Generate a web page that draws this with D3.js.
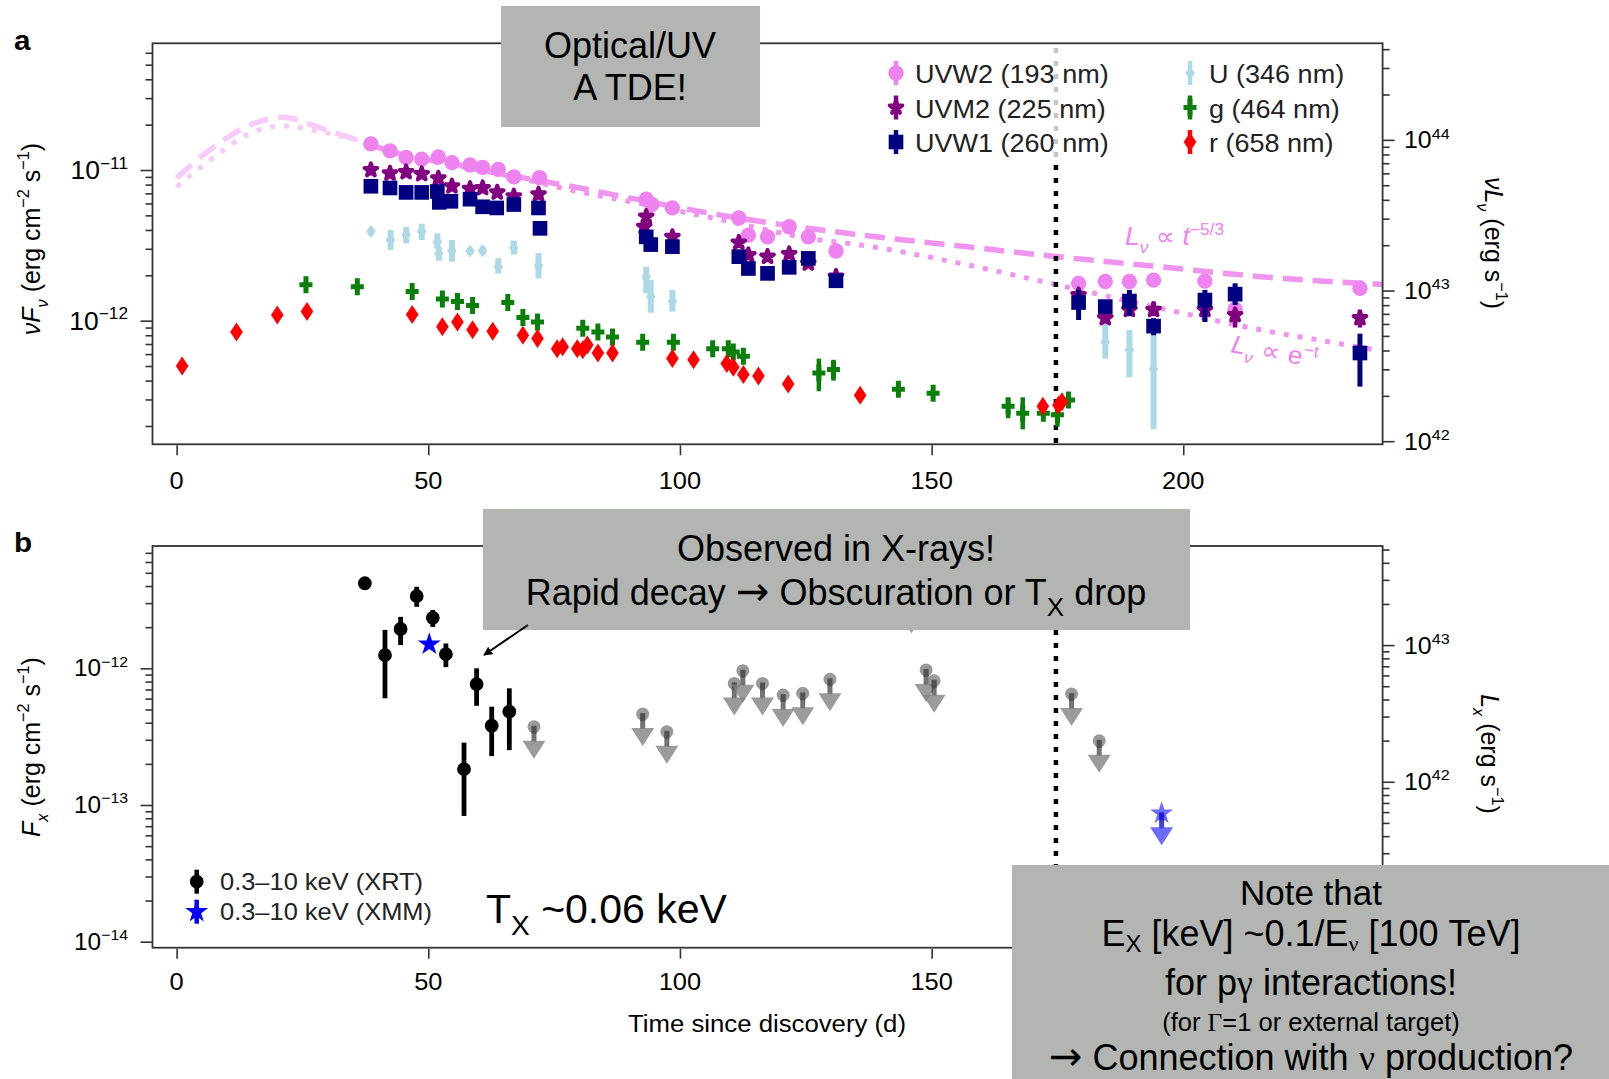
<!DOCTYPE html>
<html>
<head>
<meta charset="utf-8">
<title>AT2019dsg light curves</title>
<script src="https://cdn.jsdelivr.net/npm/d3@7"></script>
<style>
  html, body { margin: 0; padding: 0; background: #fff; }
  svg { display: block; }
</style>
</head>
<body>
<script>
// ---------------------------------------------------------------
// Panel a: optical / UV photometry, nu F_nu in units of 1e-12 erg cm^-2 s^-1
// ---------------------------------------------------------------
const uvw2Day  = [38.6, 42.4, 45.6, 48.7, 52.0, 54.7, 58.3, 60.8, 63.9, 67.0, 72.1, 93.3, 94.4, 98.5, 111.7, 113.6, 117.4, 121.7, 125.5, 131.0, 179.2, 184.5, 189.3, 194.1, 204.3, 210.3, 235.1];
const uvw2Flux = [14.9, 13.4, 12.1, 11.8, 12.2, 11.2, 10.8, 10.4, 10.1, 9.0, 8.9, 6.4, 5.9, 5.6, 4.8, 3.7, 3.6, 4.2, 3.6, 2.9, 1.77, 1.82, 1.82, 1.86, 1.83, 1.19, 1.64];

const uvm2Day  = [38.6, 42.4, 45.6, 48.7, 52.0, 54.7, 58.3, 60.8, 63.7, 67.0, 71.9, 92.9, 93.3, 98.5, 111.7, 113.6, 117.4, 121.7, 125.5, 131.0, 179.2, 184.5, 189.3, 194.1, 204.3, 210.3, 235.1];
const uvm2Flux = [10.0, 9.5, 9.7, 9.4, 8.8, 7.8, 7.5, 7.6, 7.1, 6.7, 6.9, 4.2, 4.9, 3.6, 3.3, 2.73, 2.66, 2.77, 2.40, 1.96, 1.48, 1.04, 1.18, 1.18, 1.18, 1.09, 1.04];
const uvm2Lo   = [null, null, null, null, null, null, null, null, null, null, null, null, null, null, null, null, null, null, null, null, null, 0.96, null, 1.07, 0.98, 0.90, 0.90];
const uvm2Hi   = [null, null, null, null, null, null, null, null, null, null, null, null, null, null, null, null, null, null, null, null, null, 1.12, null, 1.34, 1.31, 1.21, 1.18];

const uvw1Day  = [38.6, 42.4, 45.6, 48.7, 51.8, 52.2, 54.5, 58.3, 60.8, 63.6, 67.0, 71.9, 72.2, 93.3, 94.2, 98.5, 111.7, 113.6, 117.4, 121.7, 125.5, 131.0, 179.2, 184.5, 189.3, 194.1, 204.3, 210.3, 235.1];
const uvw1Flux = [7.8, 7.6, 7.1, 7.1, 7.2, 6.1, 6.2, 6.4, 5.7, 5.6, 5.9, 5.6, 4.1, 3.6, 3.2, 3.1, 2.66, 2.22, 2.06, 2.26, 2.59, 1.84, 1.32, 1.24, 1.35, 0.92, 1.37, 1.50, 0.61];
const uvw1Lo   = [null, null, null, null, null, null, null, null, null, null, null, null, null, null, null, null, null, null, null, null, null, null, 1.01, null, 1.07, 0.80, 0.98, 1.27, 0.365];
const uvw1Hi   = [null, null, null, null, null, null, null, null, null, null, null, null, null, null, null, null, null, null, null, null, null, null, 1.60, null, 1.60, 1.04, 1.60, 1.77, 0.82];

const uDay  = [38.6, 42.5, 45.6, 48.7, 51.8, 52.1, 54.7, 58.3, 60.8, 63.9, 67.0, 71.9, 93.3, 94.2, 98.5, 184.5, 189.3, 194.1];
const uFlux = [3.9, 3.43, 3.71, 3.9, 3.34, 2.80, 2.91, 2.90, 2.91, 2.28, 3.05, 2.32, 1.96, 1.44, 1.34, 0.72, 0.64, 0.48];
const uLo   = [3.7, 2.94, 3.26, 3.43, 3.0, 2.5, 2.46, 2.75, 2.75, 2.05, 2.75, 1.91, 1.52, 1.13, 1.15, 0.56, 0.42, 0.19];
const uHi   = [4.1, 4.0, 4.2, 4.4, 3.8, 3.1, 3.43, 3.05, 3.1, 2.6, 3.4, 2.81, 2.28, 1.86, 1.60, 0.96, 0.87, 0.91];

const gDay  = [25.7, 35.9, 46.8, 52.8, 55.8, 58.8, 65.8, 68.8, 71.7, 80.7, 83.7, 86.6, 92.6, 98.7, 106.5, 109.6, 110.6, 112.6, 127.6, 130.5, 143.4, 150.3, 165.2, 168.1, 172.2, 175.0, 177.2];
const gFlux = [1.73, 1.68, 1.56, 1.39, 1.34, 1.26, 1.32, 1.05, 0.98, 0.89, 0.84, 0.78, 0.72, 0.72, 0.65, 0.65, 0.62, 0.58, 0.45, 0.475, 0.35, 0.33, 0.27, 0.243, 0.243, 0.237, 0.297];
const gLo   = [null, null, null, null, null, null, null, null, null, null, null, null, null, null, null, null, null, null, 0.34, 0.40, null, null, 0.225, 0.19, null, 0.198, null];
const gHi   = [null, null, null, null, null, null, null, null, null, null, null, null, null, null, null, null, null, null, 0.56, 0.55, null, null, 0.31, 0.31, null, 0.283, null];

const rDay  = [1.1, 11.9, 20.0, 25.9, 46.8, 52.8, 55.8, 58.8, 62.8, 68.8, 71.7, 75.6, 76.7, 79.6, 80.7, 81.6, 83.7, 86.6, 98.5, 102.7, 109.3, 110.6, 112.6, 115.6, 121.5, 135.8, 172.1, 175.2, 175.9];
const rFlux = [0.50, 0.84, 1.09, 1.15, 1.10, 0.91, 0.98, 0.87, 0.85, 0.80, 0.76, 0.65, 0.67, 0.65, 0.64, 0.69, 0.61, 0.61, 0.56, 0.55, 0.52, 0.49, 0.44, 0.43, 0.38, 0.32, 0.27, 0.275, 0.29];

// Model curves for the UVW2 band
const powerLawDay  = [0, 7.5, 14.6, 21.0, 28.8, 35.9, 45, 55, 69.5, 78.8, 89.4, 105.3, 119.2, 135.8, 155.7, 174.9, 195.4, 215.3, 239.6];
const powerLawFlux = [8.85, 14.3, 19.9, 22.4, 18.9, 15.8, 12.6, 11.0, 8.8, 7.74, 6.59, 5.21, 4.39, 3.71, 3.13, 2.66, 2.28, 1.96, 1.74];
const expDay  = [0, 7.5, 14.6, 21.0, 28.8, 35.9, 45, 55, 69.5, 78.8, 90.1, 105.3, 127.8, 135.8, 155.7, 174.9, 196.9, 215.3, 230.4, 238.1];
const expFlux = [7.74, 12.2, 17.5, 19.6, 17.9, 15.8, 12.4, 10.8, 8.6, 7.3, 6.17, 4.9, 3.43, 3.18, 2.40, 1.73, 1.18, 0.87, 0.71, 0.64];

// Neutrino arrival time (days since discovery)
const neutrinoDay = 174.7;

// ---------------------------------------------------------------
// Panel b: X-ray flux, units of 1e-12 erg cm^-2 s^-1
// ---------------------------------------------------------------
const xrtDay  = [37.4, 41.4, 44.5, 47.7, 50.9, 53.5, 57.1, 59.6, 62.6, 66.1];
const xrtFlux = [4.19, 1.25, 1.94, 3.38, 2.34, 1.27, 0.183, 0.767, 0.380, 0.482];
const xrtLo   = [4.19, 0.604, 1.48, 2.82, 2.01, 1.02, 0.0832, 0.532, 0.228, 0.252];
const xrtHi   = [4.19, 1.91, 2.38, 3.95, 2.67, 1.52, 0.286, 1.0, 0.524, 0.714];

const xrtLimitDay  = [71.0, 92.6, 97.4, 110.8, 112.5, 116.4, 120.5, 124.4, 129.8, 146.0, 148.9, 150.5, 177.8, 183.3];
const xrtLimitFlux = [0.374, 0.463, 0.344, 0.776, 0.962, 0.776, 0.638, 0.656, 0.832, 3.1, 0.973, 0.811, 0.649, 0.295];

const xmmDay  = [50.2];
const xmmFlux = [1.50];
const xmmLimitDay  = [195.7];
const xmmLimitFlux = [0.0869];

// Axis tick values
const dayTicks = [0, 50, 100, 150, 200];
const dayTicksB = [0, 50, 100, 150];   // labels drawn in panel b (200 sits under the note box)
const fluxMajorA = [1e-12, 1e-11];
const lumMajorA  = [1e42, 1e43, 1e44];
const fluxMajorB = [1e-14, 1e-13, 1e-12];
const lumMajorB  = [1e42, 1e43];

// Legend entries
const legendA = [
  { key: 'uvw2', label: 'UVW2 (193 nm)' },
  { key: 'uvm2', label: 'UVM2 (225 nm)' },
  { key: 'uvw1', label: 'UVW1 (260 nm)' },
  { key: 'u',    label: 'U (346 nm)' },
  { key: 'g',    label: 'g (464 nm)' },
  { key: 'r',    label: 'r (658 nm)' }
];
const legendB = [
  { key: 'xrt', label: '0.3\u201310 keV (XRT)' },
  { key: 'xmm', label: '0.3\u201310 keV (XMM)' }
];

// ---------------------------------------------------------------
const W = 1609, H = 1079;
const FONT = '"Liberation Sans", Arial, Helvetica, sans-serif';
const SERIF = '"Liberation Serif", "Times New Roman", serif';
const ARROW_FONT = '"DejaVu Sans", sans-serif';
const SX = 1.06;               // slight horizontal stretch of the figure lettering
const E12 = 1e-12;
const KA = Math.pow(10, 54.8);  // flux -> luminosity, panel a
const KB = Math.pow(10, 54.83); // flux -> luminosity, panel b

const COLORS = {
  uvw2: '#ee82ee', uvm2: '#800080', uvw1: '#000080',
  u: '#add8e6', g: '#0a7f0a', r: '#ff0000',
  xrt: '#000000', xmm: '#0000ff', limit: '#8a8a8a', axis: '#333333'
};

const svg = d3.select('body').append('svg')
  .attr('width', W).attr('height', H)
  .style('font-family', FONT);

const x = d3.scaleLinear().domain([-4.79, 239.6]).range([152.5, 1382.6]);
const yA = d3.scaleLog().domain([Math.pow(10, -12.8206), Math.pow(10, -10.159)]).range([444.3, 43.3]);
const yAR = d3.scaleLog().domain(yA.domain().map(v => v * KA)).range(yA.range());
const yB = d3.scaleLog().domain([Math.pow(10, -14.044), Math.pow(10, -11.105)]).range([947.7, 546]);
const yBR = d3.scaleLog().domain(yB.domain().map(v => v * KB)).range(yB.range());

// ---------- text helpers ----------
function stretched(parent, px, py, size, anchor, rot) {
  return parent.append('text')
    .attr('transform', `translate(${px},${py}) scale(${SX},1)` + (rot ? ` rotate(${rot})` : ''))
    .attr('text-anchor', anchor || 'start')
    .style('font-size', size + 'px');
}
// parts: {t, i (italic), sub, sup, size, serif, arrow, drop}
function rich(textSel, parts, size) {
  let shift = 0;
  parts.forEach(p => {
    const target = p.sub ? (p.drop != null ? p.drop : size * 0.3) : (p.sup ? -size * 0.42 : 0);
    const fs = p.size || ((p.sub || p.sup) ? size * 0.65 : size);
    const ts = textSel.append('tspan').text(p.t).style('font-size', fs + 'px');
    if (target !== shift) ts.attr('dy', target - shift);
    if (p.i) ts.style('font-style', 'italic');
    if (p.serif) ts.style('font-family', SERIF);
    if (p.arrow) ts.style('font-family', ARROW_FONT);
    shift = target;
  });
  return textSel;
}
function powerLabel(parent, px, py, exp, size, anchor) {
  const t = stretched(parent, px, py, size, anchor);
  rich(t, [{ t: '10' }, { t: exp < 0 ? '\u2212' + (-exp) : String(exp), sup: true }], size);
  return t;
}

// ---------- axis helpers ----------
function styleAxis(g) {
  g.select('.domain').remove();
  g.selectAll('.tick line').attr('stroke', COLORS.axis).attr('stroke-width', 1.6);
  g.selectAll('.tick text').remove();
}
function logTicks(parent, scale, side, xPos, majors) {
  const isMajor = v => majors.some(m => Math.abs(m - v) / m < 1e-6);
  const minors = scale.ticks().filter(v => !isMajor(v));
  const axisFn = side === 'left' ? d3.axisLeft : d3.axisRight;
  parent.append('g').attr('transform', `translate(${xPos},0)`)
    .call(axisFn(scale).tickValues(minors).tickSize(7).tickFormat(''))
    .call(styleAxis);
  parent.append('g').attr('transform', `translate(${xPos},0)`)
    .call(axisFn(scale).tickValues(majors).tickSize(12).tickFormat(''))
    .call(styleAxis);
}
function dayAxis(parent, yPos, labelBaseline, labelled) {
  parent.append('g').attr('transform', `translate(0,${yPos + 1})`)
    .call(d3.axisBottom(x).tickValues(dayTicks).tickSize(10).tickFormat(''))
    .call(styleAxis);
  labelled.forEach(d => {
    stretched(parent, x(d), labelBaseline, 24, 'middle').text(d);
  });
}
function frame(parent, y0, y1) {
  parent.append('rect')
    .attr('x', x.range()[0]).attr('y', y0)
    .attr('width', x.range()[1] - x.range()[0]).attr('height', y1 - y0)
    .attr('fill', 'none').attr('stroke', COLORS.axis).attr('stroke-width', 1.8);
}

// ---------- marker shapes ----------
const diamondTall = { draw(ctx) { const hw = 6.3, hh = 9.5; ctx.moveTo(0, -hh); ctx.lineTo(hw, 0); ctx.lineTo(0, hh); ctx.lineTo(-hw, 0); ctx.closePath(); } };
const crossTall = { draw(ctx) {
  const t = 2.5, hw = 6.5, hh = 8.5;
  ctx.moveTo(-t, -hh); ctx.lineTo(t, -hh); ctx.lineTo(t, -t); ctx.lineTo(hw, -t); ctx.lineTo(hw, t);
  ctx.lineTo(t, t); ctx.lineTo(t, hh); ctx.lineTo(-t, hh); ctx.lineTo(-t, t); ctx.lineTo(-hw, t);
  ctx.lineTo(-hw, -t); ctx.lineTo(-t, -t); ctx.closePath(); } };
const smallDiamond = { draw(ctx) { const hw = 4.8, hh = 6.5; ctx.moveTo(0, -hh); ctx.lineTo(hw, 0); ctx.lineTo(0, hh); ctx.lineTo(-hw, 0); ctx.closePath(); } };

const SYMBOLS = {
  uvw2: d3.symbol().type(d3.symbolCircle).size(185)(),
  uvm2: d3.symbol().type(d3.symbolStar).size(50)(),
  uvw1: d3.symbol().type(d3.symbolSquare).size(215)(),
  u:    d3.symbol().type(smallDiamond)(),
  g:    d3.symbol().type(crossTall)(),
  r:    d3.symbol().type(diamondTall)(),
  xrt:  d3.symbol().type(d3.symbolCircle).size(150)(),
  xmm:  d3.symbol().type(d3.symbolStar).size(165)()
};

function series(parent, yScale, key, days, flux, lo, hi, barW) {
  const col = COLORS[key];
  const pts = days.map((d, i) => ({ d, f: flux[i] * E12, lo: lo ? lo[i] : null, hi: hi ? hi[i] : null }));
  const g = parent.append('g');
  g.selectAll('line.err').data(pts.filter(p => p.lo != null && p.hi != null)).join('line')
    .attr('class', 'err')
    .attr('x1', p => x(p.d)).attr('x2', p => x(p.d))
    .attr('y1', p => yScale(p.lo * E12)).attr('y2', p => yScale(p.hi * E12))
    .attr('stroke', col).attr('stroke-width', barW || 4.5);
  const m = g.selectAll('path.mk').data(pts).join('path')
    .attr('class', 'mk')
    .attr('d', SYMBOLS[key])
    .attr('transform', p => `translate(${x(p.d)},${yScale(p.f)})`)
    .attr('fill', col);
  if (key === 'uvm2') m.attr('stroke', col).attr('stroke-width', 4).attr('stroke-linejoin', 'round');
  return g;
}

// ================= PANEL A =================
const pa = svg.append('g');
const defs = svg.append('defs');
defs.append('clipPath').attr('id', 'earlyClip').append('rect')
  .attr('x', x.range()[0]).attr('y', 40).attr('width', x(36) - x.range()[0]).attr('height', 410);
defs.append('clipPath').attr('id', 'lateClip').append('rect')
  .attr('x', x(36)).attr('y', 40).attr('width', x.range()[1] - x(36)).attr('height', 410);

const modelLine = d3.line().x(p => x(p[0])).y(p => yA(p[1] * E12)).curve(d3.curveMonotoneX);
const powerPts = powerLawDay.map((d, i) => [d, powerLawFlux[i]]);
const expPts = expDay.map((d, i) => [d, expFlux[i]]);
[['earlyClip', 0.42], ['lateClip', 0.85]].forEach(([clip, op]) => {
  const lg = pa.append('g').attr('clip-path', `url(#${clip})`).attr('opacity', op);
  lg.append('path').attr('d', modelLine(powerPts)).attr('fill', 'none')
    .attr('stroke', COLORS.uvw2).attr('stroke-width', 5.5).attr('stroke-dasharray', '20,10');
  lg.append('path').attr('d', modelLine(expPts)).attr('fill', 'none')
    .attr('stroke', COLORS.uvw2).attr('stroke-width', 5).attr('stroke-dasharray', '5,9');
});

// neutrino time marker
pa.append('line').attr('x1', x(neutrinoDay)).attr('x2', x(neutrinoDay))
  .attr('y1', 48).attr('y2', 444).attr('stroke', '#000').attr('stroke-width', 4.5)
  .attr('stroke-dasharray', '5,8');

series(pa, yA, 'u', uDay, uFlux, uLo, uHi, 6);
series(pa, yA, 'g', gDay, gFlux, gLo, gHi, 4.5);
series(pa, yA, 'r', rDay, rFlux, null, null);
series(pa, yA, 'uvw2', uvw2Day, uvw2Flux, null, null);
series(pa, yA, 'uvm2', uvm2Day, uvm2Flux, uvm2Lo, uvm2Hi, 4.5);
series(pa, yA, 'uvw1', uvw1Day, uvw1Flux, uvw1Lo, uvw1Hi, 5);

// model labels
{
  const t1 = stretched(pa, 1125, 245, 25, 'start').attr('fill', COLORS.uvw2);
  rich(t1, [{ t: 'L', i: true }, { t: '\u03bd', i: true, sub: true }, { t: ' \u221d ' }, { t: 't', i: true }, { t: '\u22125/3', sup: true }], 25);
  const t2 = stretched(pa, 1230, 352, 25, 'start', 11).attr('fill', COLORS.uvw2);
  rich(t2, [{ t: 'L', i: true }, { t: '\u03bd', i: true, sub: true }, { t: ' \u221d e' }, { t: '\u2212t', sup: true }], 25);
}

// legend
pa.append('rect').attr('x', 878).attr('y', 47).attr('width', 467).attr('height', 111)
  .attr('fill', '#fff').attr('opacity', 0.78);
legendA.forEach((e, i) => {
  const col = i < 3 ? 0 : 1;
  const row = i % 3;
  const mx = col === 0 ? 896 : 1190;
  const my = 73 + row * 34.5;
  pa.append('line').attr('x1', mx).attr('x2', mx).attr('y1', my - 12).attr('y2', my + 12)
    .attr('stroke', COLORS[e.key]).attr('stroke-width', 4.5);
  const mk = pa.append('path').attr('d', SYMBOLS[e.key]).attr('transform', `translate(${mx},${my})`)
    .attr('fill', COLORS[e.key]);
  if (e.key === 'uvm2') mk.attr('stroke', COLORS.uvm2).attr('stroke-width', 4).attr('stroke-linejoin', 'round');
  stretched(pa, mx + 19, my + 10, 25.5, 'start').attr('fill', '#222').text(e.label);
});

frame(pa, 43.3, 444.3);
logTicks(pa, yA, 'left', x.range()[0], fluxMajorA);
logTicks(pa, yAR, 'right', x.range()[1], lumMajorA);
dayAxis(pa, 444.3, 489, dayTicks);
fluxMajorA.forEach(v => powerLabel(pa, 128, yA(v) + 9, Math.round(Math.log10(v)), 25, 'end'));
lumMajorA.forEach(v => powerLabel(pa, 1404, yAR(v) + 8.5, Math.round(Math.log10(v)), 23.5, 'start'));

rich(stretched(pa, 40, 239, 25, 'middle', -90),
  [{ t: '\u03bd', i: true }, { t: 'F', i: true }, { t: '\u03bd', i: true, sub: true }, { t: ' (erg cm' }, { t: '\u22122', sup: true }, { t: ' s' }, { t: '\u22121', sup: true }, { t: ')' }], 25);
rich(stretched(pa, 1485, 243, 25, 'middle', 90),
  [{ t: '\u03bd', i: true }, { t: 'L', i: true }, { t: '\u03bd', i: true, sub: true }, { t: ' (erg s' }, { t: '\u22121', sup: true }, { t: ')' }], 25);
stretched(pa, 14, 50, 28, 'start').style('font-weight', 'bold').text('a');

// ================= PANEL B =================
const pb = svg.append('g');
pb.append('line').attr('x1', x(neutrinoDay)).attr('x2', x(neutrinoDay))
  .attr('y1', 552).attr('y2', 947).attr('stroke', '#000').attr('stroke-width', 4.5)
  .attr('stroke-dasharray', '5,8');

// upper limits (downward arrows)
function upperLimits(parent, days, flux, fill, stemFill, headFill, symbolPath) {
  const g = parent.append('g');
  days.forEach((d, i) => {
    const px = x(d), py = yB(flux[i] * E12);
    const a = g.append('g').attr('transform', `translate(${px},${py})`);
    a.append('rect').attr('x', -2.5).attr('y', 0).attr('width', 5).attr('height', 15)
      .attr('fill', stemFill);
    a.append('path').attr('d', 'M-11.5,14 L11.5,14 L0,32 Z').attr('fill', headFill);
    if (symbolPath) a.append('path').attr('d', symbolPath).attr('fill', fill);
    else a.append('circle').attr('r', 6.5).attr('fill', fill);
    a.append('rect').attr('x', -2.5).attr('y', -1).attr('width', 5).attr('height', 8)
      .attr('fill', stemFill);
  });
  return g;
}
upperLimits(pb, xrtLimitDay, xrtLimitFlux, 'rgba(120,120,120,0.75)', 'rgba(70,70,70,0.75)', 'rgba(130,130,130,0.8)');
upperLimits(pb, xmmLimitDay, xmmLimitFlux, 'rgba(60,60,255,0.75)', 'rgba(20,20,200,0.8)', 'rgba(70,70,255,0.8)', SYMBOLS.xmm);

series(pb, yB, 'xrt', xrtDay, xrtFlux, xrtLo, xrtHi, 4.8);
series(pb, yB, 'xmm', xmmDay, xmmFlux, null, null);

// legend b
legendB.forEach((e, i) => {
  const mx = 196.7, my = 881.7 + i * 30;
  pb.append('line').attr('x1', mx).attr('x2', mx).attr('y1', my - 12).attr('y2', my + 12)
    .attr('stroke', COLORS[e.key]).attr('stroke-width', 4.5);
  pb.append('path').attr('d', SYMBOLS[e.key]).attr('transform', `translate(${mx},${my})`)
    .attr('fill', COLORS[e.key]);
  stretched(pb, 220, my + 8.5, 24, 'start').attr('fill', '#222').text(e.label);
});

frame(pb, 546, 947.7);
logTicks(pb, yB, 'left', x.range()[0], fluxMajorB);
logTicks(pb, yBR, 'right', x.range()[1], lumMajorB);
dayAxis(pb, 947.7, 990, dayTicksB);
fluxMajorB.forEach(v => powerLabel(pb, 128, yB(v) + 8, Math.round(Math.log10(v)), 23, 'end'));
lumMajorB.forEach(v => powerLabel(pb, 1404, yBR(v) + 8.5, Math.round(Math.log10(v)), 23.5, 'start'));

rich(stretched(pb, 40, 747, 25, 'middle', -90),
  [{ t: 'F', i: true }, { t: 'x', i: true, sub: true }, { t: ' (erg cm' }, { t: '\u22122', sup: true }, { t: ' s' }, { t: '\u22121', sup: true }, { t: ')' }], 25);
rich(stretched(pb, 1481, 754, 25, 'middle', 90),
  [{ t: 'L', i: true }, { t: 'x', i: true, sub: true }, { t: ' (erg s' }, { t: '\u22121', sup: true }, { t: ')' }], 25);
stretched(pb, 14, 552, 28, 'start').style('font-weight', 'bold').text('b');
stretched(pb, 767, 1032, 24.3, 'middle').text('Time since discovery (d)');

// T_X annotation inside panel b
{
  const t = svg.append('text').attr('x', 486).attr('y', 923).style('font-size', '41px').attr('fill', '#000');
  rich(t, [{ t: 'T' }, { t: 'X', sub: true, size: 28 }, { t: ' ~0.06 keV' }], 41);
}

// ================= ANNOTATION BOXES =================
const BOX = '#b3b5b2';
const notes = svg.append('g').attr('fill', '#000');

notes.append('rect').attr('x', 501).attr('y', 6).attr('width', 259).attr('height', 121).attr('fill', BOX);
notes.append('text').attr('x', 630).attr('y', 58).attr('text-anchor', 'middle').style('font-size', '36px').text('Optical/UV');
notes.append('text').attr('x', 630).attr('y', 100).attr('text-anchor', 'middle').style('font-size', '36px').text('A TDE!');

notes.append('rect').attr('x', 483).attr('y', 509).attr('width', 707).attr('height', 121).attr('fill', BOX);
notes.append('text').attr('x', 836).attr('y', 561).attr('text-anchor', 'middle').style('font-size', '36px').text('Observed in X-rays!');
rich(notes.append('text').attr('x', 836).attr('y', 605).attr('text-anchor', 'middle').style('font-size', '36px'),
  [{ t: 'Rapid decay ' }, { t: '\u2192', arrow: true, size: 40 }, { t: ' Obscuration or T' }, { t: 'X', sub: true, size: 26 }, { t: ' drop' }], 36);

defs.append('marker').attr('id', 'arrowHead').attr('viewBox', '0 0 10 10')
  .attr('refX', 9).attr('refY', 5).attr('markerWidth', 9).attr('markerHeight', 9)
  .attr('orient', 'auto').attr('markerUnits', 'userSpaceOnUse')
  .append('path').attr('d', 'M0,0 L10,5 L0,10 Z').attr('fill', '#000');
notes.append('line').attr('x1', 528).attr('y1', 625).attr('x2', 484).attr('y2', 655)
  .attr('stroke', '#000').attr('stroke-width', 2).attr('marker-end', 'url(#arrowHead)');

notes.append('rect').attr('x', 1012).attr('y', 865).attr('width', W - 1012).attr('height', H - 865).attr('fill', BOX);
const cx3 = 1311;
notes.append('text').attr('x', cx3).attr('y', 905).attr('text-anchor', 'middle').style('font-size', '35px').text('Note that');
rich(notes.append('text').attr('x', cx3).attr('y', 946).attr('text-anchor', 'middle').style('font-size', '36px'),
  [{ t: 'E' }, { t: 'X', sub: true, size: 24, drop: 6 }, { t: ' [keV] ~0.1/E' }, { t: '\u03bd', sub: true, size: 22, serif: true, drop: 5 }, { t: ' [100 TeV]' }], 36);
rich(notes.append('text').attr('x', cx3).attr('y', 995).attr('text-anchor', 'middle').style('font-size', '36px'),
  [{ t: 'for p' }, { t: '\u03b3', serif: true }, { t: ' interactions!' }], 36);
rich(notes.append('text').attr('x', cx3).attr('y', 1031).attr('text-anchor', 'middle').style('font-size', '25.5px'),
  [{ t: '(for ' }, { t: '\u0393', serif: true }, { t: '=1 or external target)' }], 25.5);
rich(notes.append('text').attr('x', cx3).attr('y', 1070).attr('text-anchor', 'middle').style('font-size', '36px'),
  [{ t: '\u2192', arrow: true, size: 40 }, { t: ' Connection with ' }, { t: '\u03bd', serif: true }, { t: ' production?' }], 36);
</script>
</body>
</html>
